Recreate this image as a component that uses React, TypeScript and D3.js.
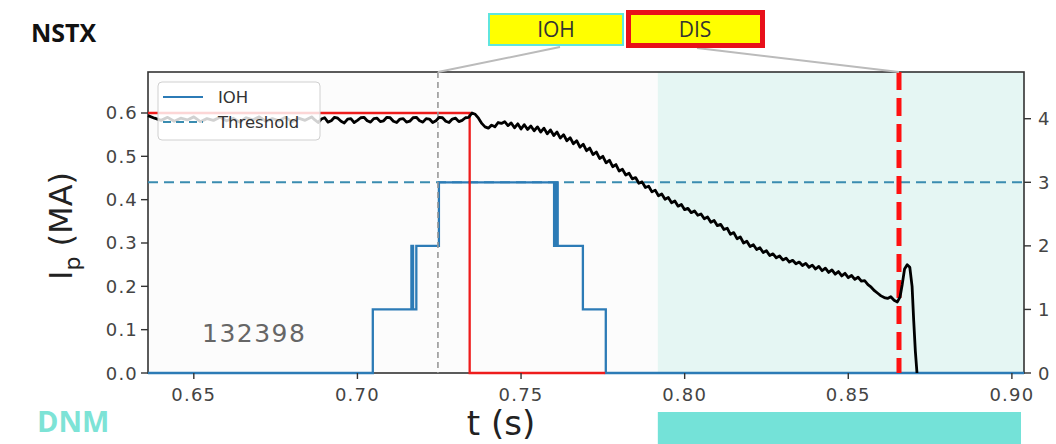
import React from "react";
import * as d3 from "d3";

// ---------- data ----------
const xTickValues = [0.65, 0.7, 0.75, 0.8, 0.85, 0.9];
const yLeftTicks = [0.0, 0.1, 0.2, 0.3, 0.4, 0.5, 0.6];
const yRightTicks = [0, 1, 2, 3, 4];
const shotNumber = "132398";
const thresholdLevel = 3; // right axis
const iohMarkerTime = 0.7246; // grey dashed
const disMarkerTime = 0.8655; // red dashed
const dnmStartTime = 0.7918; // teal shading start

// IOH step signal (right axis units), step-after
const iohSteps: [number, number][] = [
  [0.636, 0], [0.7047, 1], [0.7165, 2], [0.7170, 1], [0.7180, 2], [0.7249, 3],
  [0.7601, 2], [0.7605, 3], [0.7612, 2], [0.7689, 1], [0.7759, 0], [0.9037, 0],
];

// disruption label step (left axis units)
const disSteps: [number, number][] = [
  [0.636, 0.6], [0.7343, 0], [0.7757, 0],
];

// plasma current Ip (MA)
const ipSignal: [number, number][] = [
  [0.636, 0.594], [0.638, 0.588], [0.64, 0.583], [0.642, 0.59], [0.644, 0.581], [0.646, 0.588],
  [0.648, 0.584], [0.65, 0.591], [0.652, 0.58], [0.654, 0.587], [0.656, 0.583], [0.658, 0.59],
  [0.66, 0.582], [0.662, 0.588], [0.664, 0.579], [0.666, 0.589], [0.668, 0.584], [0.67, 0.591],
  [0.672, 0.581], [0.674, 0.587], [0.676, 0.582], [0.678, 0.59], [0.68, 0.58], [0.682, 0.588],
  [0.684, 0.583], [0.686, 0.591], [0.687, 0.584], [0.688, 0.578], [0.689, 0.586], [0.69, 0.589],
  [0.691, 0.579], [0.692, 0.582], [0.693, 0.59], [0.694, 0.588], [0.695, 0.581], [0.696, 0.577],
  [0.697, 0.586], [0.698, 0.587], [0.699, 0.578], [0.7, 0.583], [0.701, 0.589], [0.702, 0.59],
  [0.703, 0.582], [0.704, 0.579], [0.705, 0.587], [0.706, 0.588], [0.707, 0.58], [0.708, 0.582],
  [0.709, 0.59], [0.71, 0.589], [0.711, 0.581], [0.712, 0.578], [0.713, 0.586], [0.714, 0.587],
  [0.715, 0.579], [0.716, 0.581], [0.717, 0.589], [0.718, 0.59], [0.719, 0.582], [0.72, 0.579],
  [0.721, 0.587], [0.722, 0.586], [0.723, 0.578], [0.724, 0.582], [0.725, 0.59], [0.726, 0.589],
  [0.727, 0.581], [0.728, 0.578], [0.729, 0.586], [0.73, 0.588], [0.731, 0.58], [0.732, 0.583],
  [0.733, 0.589], [0.734, 0.59],
  [0.735, 0.6], [0.736, 0.597], [0.737, 0.588], [0.738, 0.576], [0.739, 0.568], [0.74, 0.565],
  [0.741, 0.572], [0.742, 0.568], [0.743, 0.578], [0.744, 0.576], [0.745, 0.58], [0.746, 0.571],
  [0.747, 0.577], [0.748, 0.566], [0.749, 0.575], [0.75, 0.563], [0.751, 0.573], [0.752, 0.562],
  [0.753, 0.57], [0.754, 0.559], [0.755, 0.568], [0.756, 0.556], [0.757, 0.565], [0.758, 0.552],
  [0.759, 0.561], [0.76, 0.548], [0.761, 0.556], [0.762, 0.542], [0.763, 0.55], [0.764, 0.536],
  [0.765, 0.543], [0.766, 0.529], [0.767, 0.536], [0.768, 0.521], [0.769, 0.528], [0.77, 0.513],
  [0.771, 0.519], [0.772, 0.504], [0.773, 0.51], [0.774, 0.495], [0.775, 0.5], [0.776, 0.485],
  [0.777, 0.491], [0.778, 0.476], [0.779, 0.481], [0.78, 0.466], [0.781, 0.47], [0.782, 0.457],
  [0.783, 0.461], [0.784, 0.448], [0.785, 0.451], [0.786, 0.438], [0.787, 0.441], [0.788, 0.428],
  [0.789, 0.431], [0.79, 0.418], [0.791, 0.422], [0.792, 0.409], [0.793, 0.413], [0.794, 0.401],
  [0.795, 0.405], [0.796, 0.393], [0.797, 0.397], [0.798, 0.385], [0.799, 0.389], [0.8, 0.377],
  [0.801, 0.38], [0.802, 0.37], [0.803, 0.374], [0.804, 0.364], [0.805, 0.367], [0.806, 0.356],
  [0.807, 0.36], [0.808, 0.348], [0.809, 0.352], [0.81, 0.34], [0.811, 0.343], [0.812, 0.331],
  [0.813, 0.334], [0.814, 0.32], [0.815, 0.324], [0.816, 0.31], [0.817, 0.314], [0.818, 0.3],
  [0.819, 0.304], [0.82, 0.292], [0.821, 0.296], [0.822, 0.285], [0.823, 0.289], [0.824, 0.278],
  [0.825, 0.282], [0.826, 0.271], [0.827, 0.275], [0.828, 0.266], [0.829, 0.27], [0.83, 0.261],
  [0.831, 0.265], [0.832, 0.256], [0.833, 0.26], [0.834, 0.252], [0.835, 0.256], [0.836, 0.248],
  [0.837, 0.253], [0.838, 0.244], [0.839, 0.249], [0.84, 0.24], [0.841, 0.246], [0.842, 0.236],
  [0.843, 0.242], [0.844, 0.232], [0.845, 0.238], [0.846, 0.228], [0.847, 0.234], [0.848, 0.224],
  [0.849, 0.23], [0.85, 0.22], [0.851, 0.225], [0.852, 0.216], [0.853, 0.221], [0.854, 0.212],
  [0.855, 0.213], [0.856, 0.204], [0.857, 0.198], [0.858, 0.19], [0.859, 0.184], [0.86, 0.178],
  [0.861, 0.174], [0.862, 0.172], [0.863, 0.176], [0.864, 0.168], [0.865, 0.164], [0.8658, 0.175],
  [0.8665, 0.205], [0.8672, 0.24], [0.868, 0.25], [0.8688, 0.244], [0.8695, 0.2], [0.87, 0.12],
  [0.8705, 0.05], [0.871, 0.0],
];

// ---------- layout ----------
const W = 1056;
const H = 444;
const L = 148, R = 1024, T = 72, B = 373;

const x = d3.scaleLinear().domain([0.636, 0.9037]).range([L, R]);
const yL = d3.scaleLinear().domain([0, 0.6946]).range([B, T]);
const yR = d3.scaleLinear().domain([0, 4.735]).range([B, T]);

const IOH_BLUE = "#2c7bb6";
const THR_BLUE = "#3a8cb0";
const RED = "#ee1c1c";
const AX = "DejaVu Sans, sans-serif";
const SANS = "'Open Sans', 'Noto Sans', sans-serif";

export default function App() {
  const iohLine = d3.line<[number, number]>().x((d) => x(d[0])).y((d) => yR(d[1])).curve(d3.curveStepAfter);
  const disLine = d3.line<[number, number]>().x((d) => x(d[0])).y((d) => yL(d[1])).curve(d3.curveStepAfter);
  const ipLine = d3.line<[number, number]>().x((d) => x(d[0])).y((d) => yL(d[1]));

  const connectorIOH = { x1: 560, y1: 47, x2: x(iohMarkerTime), y2: T };
  const connectorDIS = { x1: 697, y1: 48, x2: x(disMarkerTime), y2: T };

  return (
    <div style={{ position: "absolute", left: 0, top: 0 }}>
      <svg width={W} height={H} style={{ display: "block", background: "#ffffff" }}>
        {/* plot background */}
        <rect x={L} y={T} width={R - L} height={B - T} fill="#fcfcfc" />
        <rect x={x(dnmStartTime)} y={T} width={R - x(dnmStartTime)} height={B - T} fill="#e5f6f3" />

        {/* frame */}
        <rect x={L} y={T} width={R - L} height={B - T} fill="none" stroke="#333" strokeWidth={1.6} />

        {/* threshold */}
        <line x1={L} x2={R} y1={yR(thresholdLevel)} y2={yR(thresholdLevel)} stroke={THR_BLUE} strokeWidth={2} strokeDasharray="10,6" />

        {/* IOH steps */}
        <path d={iohLine(iohSteps) || ""} fill="none" stroke={IOH_BLUE} strokeWidth={2.3} />

        {/* DIS label step */}
        <path d={disLine(disSteps) || ""} fill="none" stroke={RED} strokeWidth={2.3} />

        {/* grey dashed marker */}
        <line x1={x(iohMarkerTime)} x2={x(iohMarkerTime)} y1={T} y2={B} stroke="#999" strokeWidth={1.6} strokeDasharray="6,4" />

        {/* red dashed marker */}
        <line x1={x(disMarkerTime)} x2={x(disMarkerTime)} y1={T} y2={B} stroke="#ff1010" strokeWidth={5} strokeDasharray="18,8" />

        {/* Ip */}
        <path d={ipLine(ipSignal) || ""} fill="none" stroke="#000" strokeWidth={2.8} strokeLinejoin="round" />

        {/* shot number */}
        <text x={202} y={342} fontFamily={AX} fontSize={25} fill="#666" letterSpacing={1.5}>{shotNumber}</text>

        {/* legend */}
        <g>
          <rect x={158} y={82} width={162} height={58} rx={4} fill="#fff" fillOpacity={0.82} stroke="#d0d0d0" strokeWidth={1} />
          <line x1={163} x2={203} y1={97} y2={97} stroke={IOH_BLUE} strokeWidth={2} />
          <text x={218} y={103} fontFamily={AX} fontSize={16.5} fill="#333">IOH</text>
          <line x1={163} x2={203} y1={122} y2={122} stroke={THR_BLUE} strokeWidth={2} strokeDasharray="8,5" />
          <text x={218} y={128} fontFamily={AX} fontSize={16.5} fill="#333">Threshold</text>
        </g>

        {/* x axis ticks */}
        {xTickValues.map((t) => (
          <g key={"xt" + t}>
            <line x1={x(t)} x2={x(t)} y1={B} y2={B + 6} stroke="#333" strokeWidth={1.4} />
            <text x={x(t)} y={401} textAnchor="middle" fontFamily={AX} fontSize={18} fill="#444" letterSpacing={1.2}>
              {t.toFixed(2)}
            </text>
          </g>
        ))}
        {/* left y ticks */}
        {yLeftTicks.map((v) => (
          <g key={"yl" + v}>
            <line x1={L - 7} x2={L} y1={yL(v)} y2={yL(v)} stroke="#333" strokeWidth={1.4} />
            <text x={L - 10} y={yL(v) + 6.5} textAnchor="end" fontFamily={AX} fontSize={18} fill="#444" letterSpacing={1.2}>
              {v.toFixed(1)}
            </text>
          </g>
        ))}
        {/* right y ticks */}
        {yRightTicks.map((v) => (
          <g key={"yr" + v}>
            <line x1={R} x2={R + 7} y1={yR(v)} y2={yR(v)} stroke="#333" strokeWidth={1.4} />
            <text x={R + 14} y={yR(v) + 6.5} fontFamily={AX} fontSize={18} fill="#444">
              {v}
            </text>
          </g>
        ))}

        {/* axis titles */}
        <text transform="translate(72,226) rotate(-90)" textAnchor="middle" fontFamily={AX} fontSize={32} fill="#222">
          I<tspan fontSize={22} dy={8}>p</tspan><tspan dy={-8}> (MA)</tspan>
        </text>
        <text x={501} y={435} textAnchor="middle" fontFamily={AX} fontSize={34} fill="#222">t (s)</text>

        {/* top annotations */}
        <text x={31} y={42} fontFamily={SANS} fontWeight={700} fontSize={25} fill="#111">NSTX</text>

        <line {...connectorIOH} stroke="#bbbbbb" strokeWidth={2} />
        <line {...connectorDIS} stroke="#bbbbbb" strokeWidth={2} />

        <rect x={489} y={14} width={134} height={31} fill="#ffff00" stroke="#5fe6de" strokeWidth={2} />
        <text x={556} y={37} textAnchor="middle" fontFamily={SANS} fontSize={21} fill="#333">IOH</text>
        <rect x={628.5} y={12.5} width={134} height={33} fill="#ffff00" stroke="#e8101a" strokeWidth={5} />
        <text x={695} y={37} textAnchor="middle" fontFamily={SANS} fontSize={21} fill="#333">DIS</text>

        {/* bottom annotations */}
        <text x={37} y={432} fontFamily={SANS} fontWeight={700} fontSize={29} fill="#7de3d6">DNM</text>
        <rect x={x(dnmStartTime)} y={412} width={1021 - x(dnmStartTime)} height={H - 412} fill="#74e2d8" />
      </svg>
    </div>
  );
}
